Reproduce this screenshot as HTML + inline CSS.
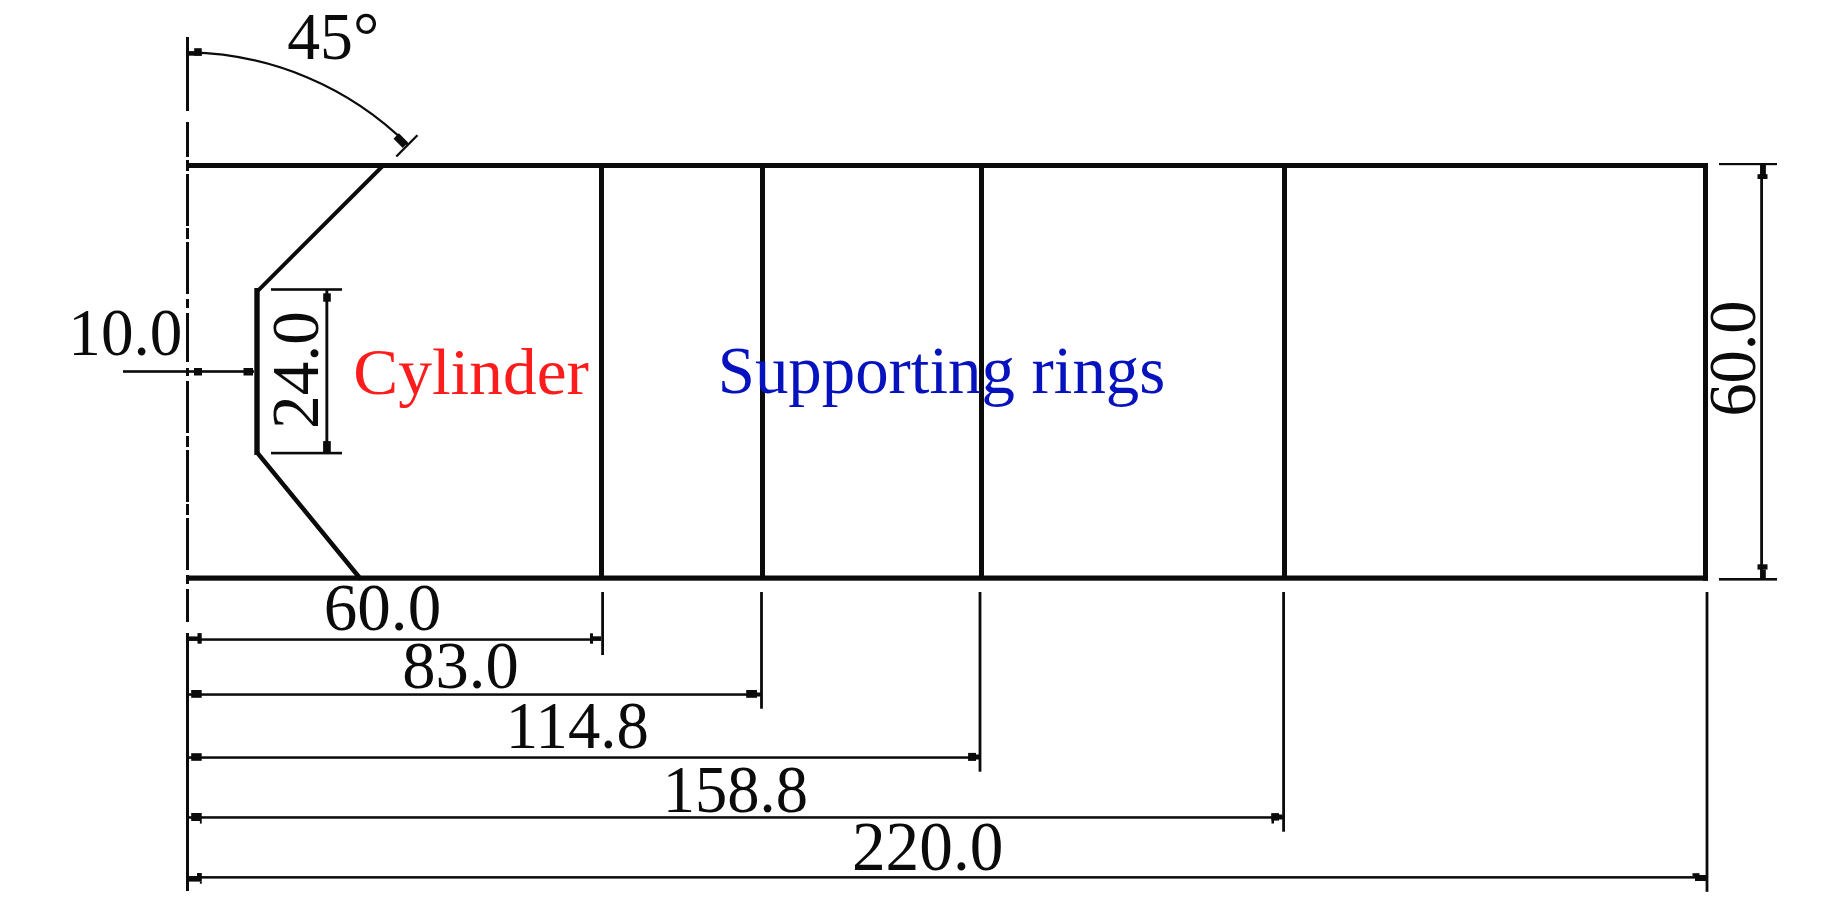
<!DOCTYPE html>
<html><head><meta charset="utf-8"><style>
html,body{margin:0;padding:0;background:#fff;overflow:hidden;}
svg{display:block;}
text{font-family:"Liberation Serif",serif;font-size:66px;}
</style></head><body>
<svg width="1843" height="898" viewBox="0 0 1843 898">
<g fill="#0b0b0b">
<rect x="186" y="37" width="3" height="74"/>
<rect x="186" y="122" width="3" height="35"/>
<rect x="186" y="160" width="3" height="11"/>
<rect x="186" y="174" width="3" height="52"/>
<rect x="186" y="228" width="3" height="11"/>
<rect x="186" y="242" width="3" height="52"/>
<rect x="186" y="299" width="3" height="9"/>
<rect x="186" y="313" width="3" height="49"/>
<rect x="186" y="368" width="3" height="8"/>
<rect x="186" y="381" width="3" height="52"/>
<rect x="186" y="436" width="3" height="11"/>
<rect x="186" y="450" width="3" height="52"/>
<rect x="186" y="504" width="3" height="11"/>
<rect x="186" y="518" width="3" height="52"/>
<rect x="186" y="575" width="3" height="9"/>
<rect x="186" y="589" width="3" height="33"/>
<rect x="186" y="633" width="3" height="258"/>
<rect x="189" y="163" width="1519" height="5"/>
<rect x="186" y="575.5" width="1522" height="5.2"/>
<rect x="1703" y="163" width="5" height="417.7"/>
<rect x="599.0" y="165" width="5" height="413"/>
<rect x="760.0" y="165" width="5" height="413"/>
<rect x="979.0" y="165" width="5" height="413"/>
<rect x="1282.0" y="165" width="5" height="413"/>
<rect x="254.3" y="288" width="5.4" height="167"/>
<line x1="383.2" y1="165.5" x2="257.3" y2="291.3" stroke="#0b0b0b" stroke-width="3.9" stroke-linecap="round"/>
<line x1="257.2" y1="452.6" x2="359.8" y2="578" stroke="#0b0b0b" stroke-width="4.5" stroke-linecap="round"/>
<rect x="123" y="370.2" width="131" height="2.6"/>
<rect x="194" y="368" width="8" height="7.5"/>
<rect x="243.5" y="368" width="9.5" height="7.5"/>
<rect x="271" y="288.2" width="71" height="2.6"/>
<rect x="271" y="451.8" width="71" height="2.6"/>
<rect x="325.4" y="289" width="2.9" height="165"/>
<rect x="323.2" y="293.3" width="7.6" height="8.4"/>
<rect x="323.1" y="441.1" width="7.7" height="11"/>
<rect x="1719" y="163" width="58" height="2.2"/>
<rect x="1719" y="578" width="58" height="2.6"/>
<rect x="1760.2" y="164" width="2.8" height="415"/>
<rect x="1760.2" y="164.5" width="5.7" height="10.5"/>
<rect x="1757.5" y="174.2" width="10" height="4.8"/>
<rect x="1757.5" y="564.3" width="10" height="5.3"/>
<rect x="1760.2" y="569.6" width="5.6" height="9.4"/>
<rect x="601.2" y="592" width="2.8" height="63"/>
<rect x="760.1" y="592" width="2.8" height="116.70000000000005"/>
<rect x="978.6" y="592" width="2.8" height="179.70000000000005"/>
<rect x="1282.1999999999998" y="592" width="2.8" height="239.70000000000005"/>
<rect x="1705.6" y="592" width="2.8" height="299.79999999999995"/>
<rect x="188" y="638.3" width="413" height="2.5"/>
<rect x="188" y="693.3" width="573" height="2.5"/>
<rect x="188" y="756.3" width="792" height="2.5"/>
<rect x="188" y="816.2" width="1095" height="2.5"/>
<rect x="188" y="876.1" width="1518" height="2.5"/>
<rect x="189" y="636.4" width="10.5" height="4.3"/>
<rect x="197.5" y="633.1" width="4.2" height="10.6"/>
<rect x="191.2" y="690" width="10.5" height="7.8"/>
<rect x="191.2" y="753.2" width="10.5" height="7.6"/>
<rect x="191.2" y="813" width="10.5" height="8"/>
<rect x="199.9" y="821" width="1.8" height="2.6"/>
<rect x="189" y="876" width="12.8" height="5.6"/>
<rect x="197" y="873" width="4.8" height="4"/>
<rect x="199.9" y="881.5" width="1.9" height="2.2"/>
<rect x="590" y="633.3" width="3" height="10.4"/>
<rect x="593" y="636.3" width="8" height="4.3"/>
<rect x="746.2" y="690" width="10.8" height="7.8"/>
<rect x="757" y="692.5" width="4" height="4"/>
<rect x="968.1" y="752.9" width="7.9" height="8"/>
<rect x="976" y="754.5" width="3" height="5"/>
<rect x="1271.2" y="813.1" width="7.8" height="7.5"/>
<rect x="1279" y="814.5" width="3.5" height="5"/>
<rect x="1271.5" y="820" width="2.5" height="3.5"/>
<rect x="1695" y="875" width="11" height="6"/>
<rect x="1692.5" y="873.2" width="7" height="3"/>
<path d="M 189.00 52.35 A 318.5 318.5 0 0 1 407.93 144.80" fill="none" stroke="#0b0b0b" stroke-width="2.2"/>
<rect x="194.2" y="48.2" width="7.5" height="7.5"/>
<rect x="189" y="51.3" width="12.7" height="4.4"/>
<rect x="-6.5" y="-3.8" width="13" height="7.6" transform="translate(400.8 140.6) rotate(44.8)"/>
<line x1="396.30" y1="156.51" x2="417.44" y2="135.22" stroke="#0b0b0b" stroke-width="2.3"/>
</g>
<g>
<text x="281" y="59" fill="#0b0b0b" transform="matrix(0.99636 0 0 1.01255 7.200 -1.100)">45°</text>
<text x="66" y="355" fill="#0b0b0b" transform="matrix(0.98734 0 0 1.03832 3.195 -13.926)">10.0</text>
<text x="318" y="429" fill="#0b0b0b" transform="matrix(1.03339 0 0 1.01981 -11.060 -8.531) rotate(-90 318 429)">24.0</text>
<text x="354" y="393" fill="#fc1c1c" transform="matrix(1.02030 0 0 1.00631 -7.826 -1.870)">Cylinder</text>
<text x="720" y="394" fill="#0612be" transform="matrix(1.01287 0 0 1.03500 -11.520 -14.980)">Supporting rings</text>
<text x="1757" y="416" fill="#0b0b0b" transform="matrix(1.03868 0 0 1.00507 -69.813 -1.540) rotate(-90 1757 416)">60.0</text>
<text x="325" y="631" fill="#0b0b0b" transform="matrix(1.01607 0 0 1.03423 -6.389 -22.235)">60.0</text>
<text x="403" y="688" fill="#0b0b0b" transform="matrix(1.00872 0 0 1.03234 -4.200 -22.544)">83.0</text>
<text x="504" y="749" fill="#0b0b0b" transform="matrix(0.97976 0 0 1.02464 11.867 -19.180)">114.8</text>
<text x="661" y="812" fill="#0b0b0b" transform="matrix(0.97830 0 0 1.02391 16.012 -19.136)">158.8</text>
<text x="852" y="870" fill="#0b0b0b" transform="matrix(1.01959 0 0 1.04952 -16.713 -43.015)">220.0</text>
</g>
</svg>
</body></html>
